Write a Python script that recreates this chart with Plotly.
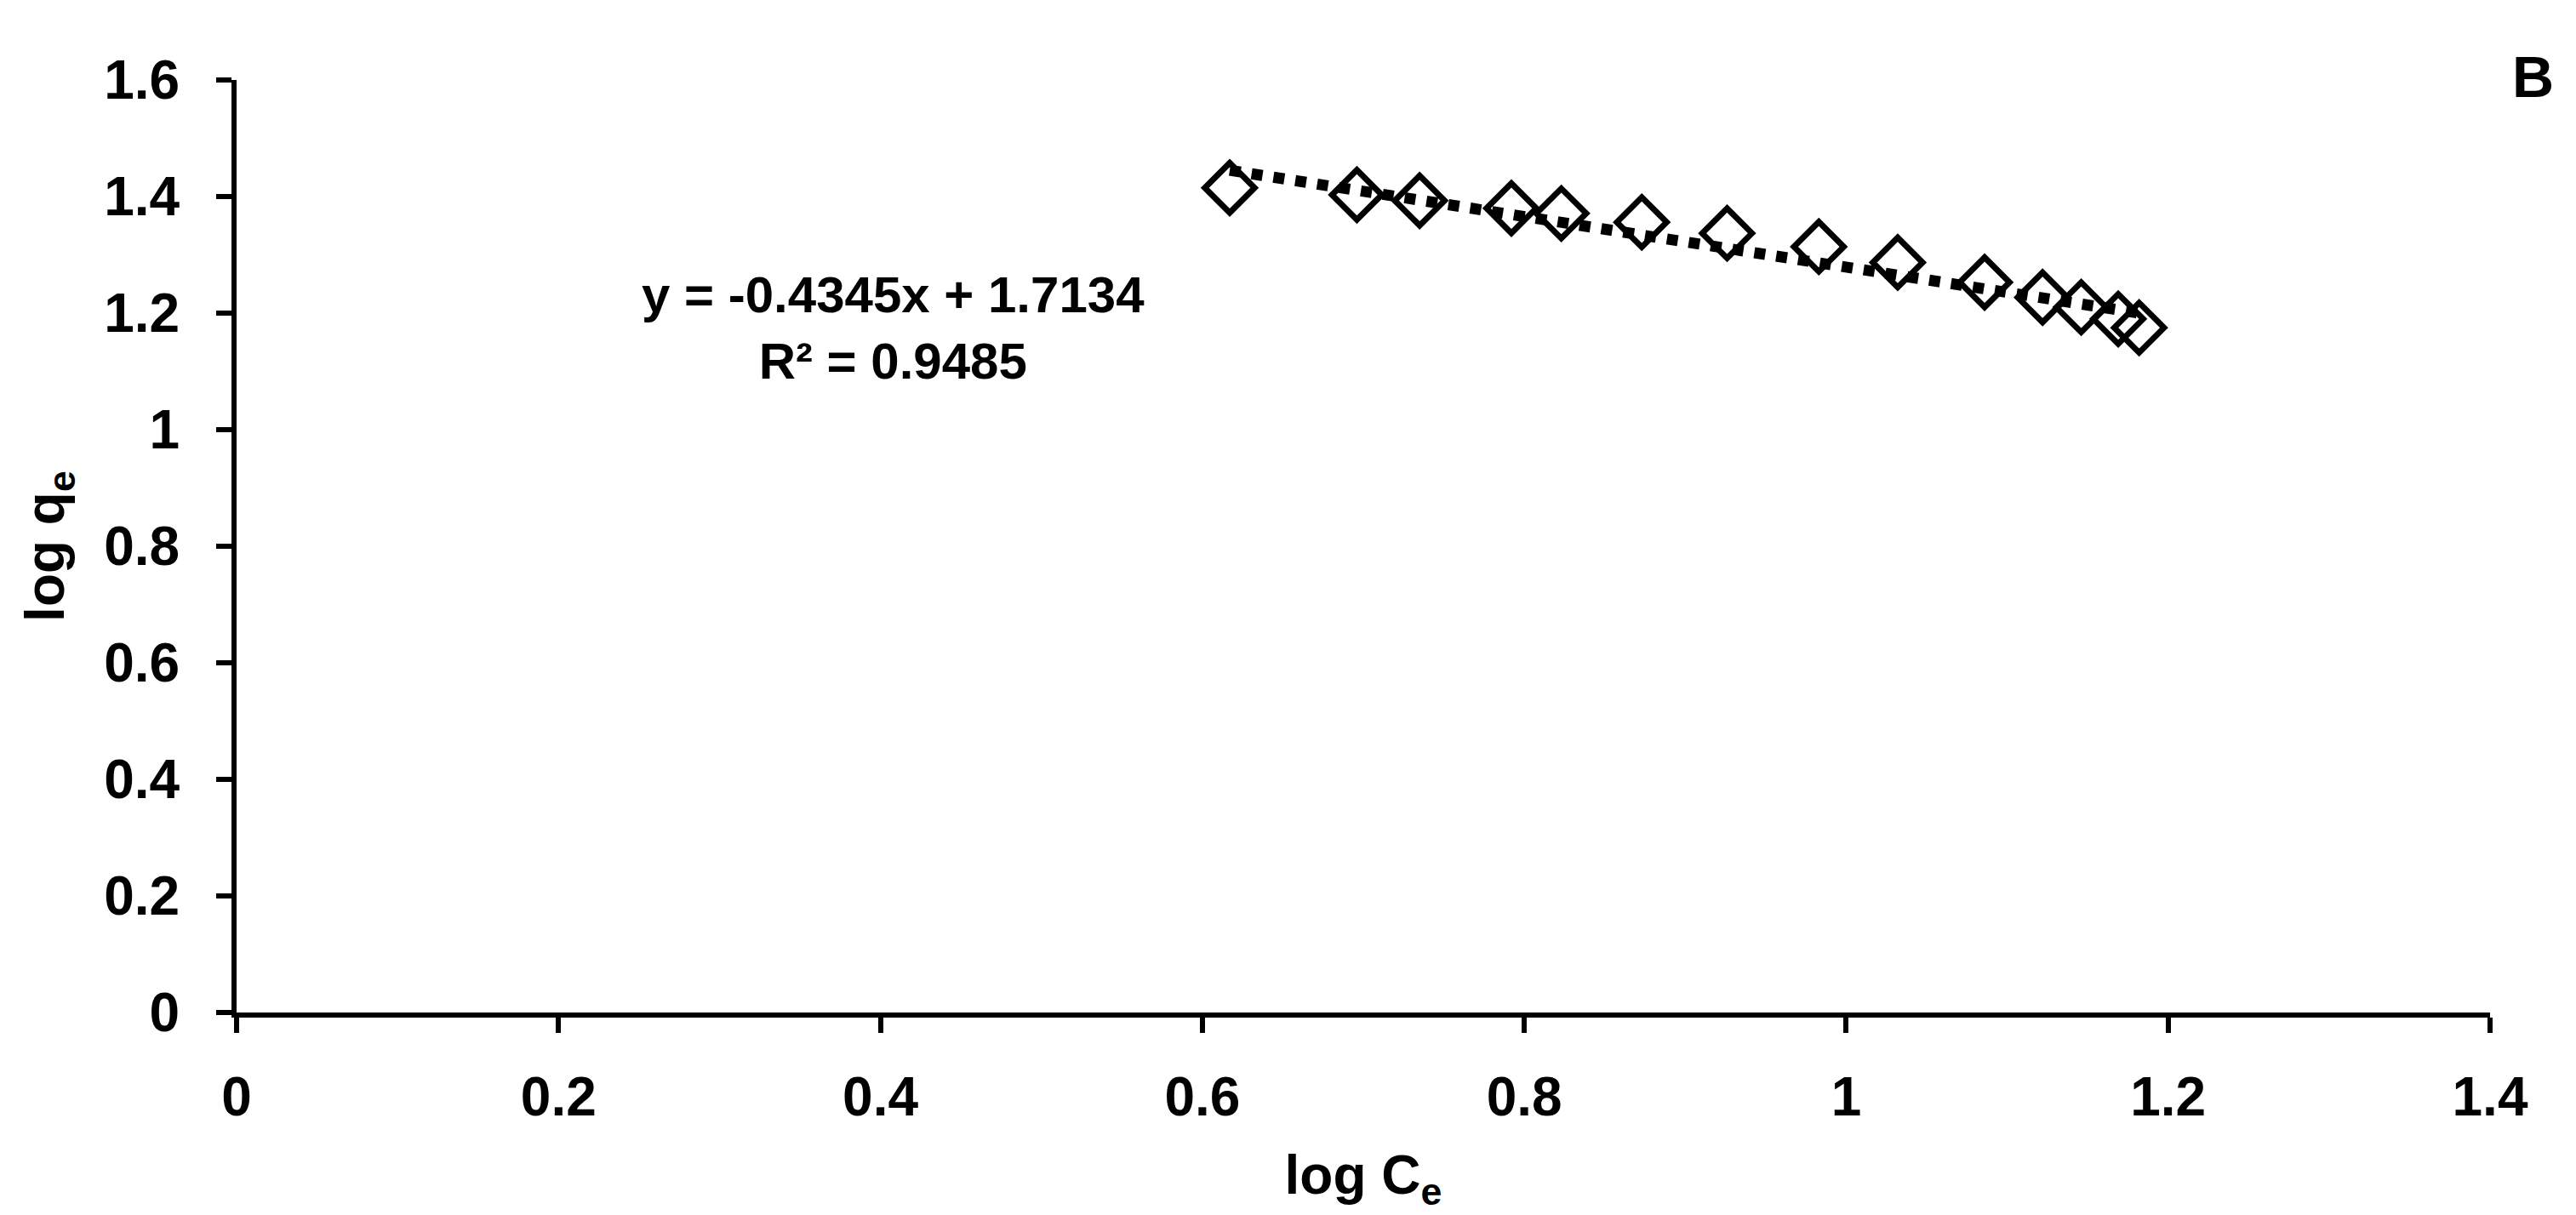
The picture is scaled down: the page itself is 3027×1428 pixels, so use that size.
import plotly.graph_objects as go

# ── data ─────────────────────────────────────────────────────────────
log_ce = [0.617, 0.696, 0.735, 0.792, 0.823, 0.873, 0.926,
          0.983, 1.032, 1.086, 1.122, 1.146, 1.169, 1.182]
log_qe = [1.415, 1.403, 1.393, 1.380, 1.371, 1.356, 1.337,
          1.314, 1.287, 1.253, 1.227, 1.210, 1.190, 1.175]

# linear trendline (Excel style), drawn between its two ends
trend_x = [0.617, 1.182]
trend_y = [1.445, 1.200]

eq_text = "y = -0.4345x + 1.7134<br>R² = 0.9485"

x_ticks = [0, 0.2, 0.4, 0.6, 0.8, 1, 1.2, 1.4]
y_ticks = [0, 0.2, 0.4, 0.6, 0.8, 1, 1.2, 1.4, 1.6]

FONT = "Liberation Sans, Arial, sans-serif"

fig = go.Figure()

fig.add_trace(go.Scatter(
    x=log_ce, y=log_qe, mode="markers",
    marker=dict(symbol="diamond-open", size=45, color="black",
                line=dict(color="black", width=7)),
    showlegend=False, cliponaxis=False,
))

fig.add_trace(go.Scatter(
    x=trend_x, y=trend_y, mode="lines",
    line=dict(color="black", width=13, dash="13px,13px"),
    showlegend=False,
))

axis_common = dict(
    showline=True, linecolor="black", linewidth=6,
    ticks="outside", ticklen=18, tickwidth=6, tickcolor="black",
    showgrid=False, zeroline=False,
    tickfont=dict(family=FONT, size=64, color="black", weight="bold"),
)

fig.update_xaxes(
    range=[0, 1.4], tickvals=x_ticks, ticklabelstandoff=20,
    title=dict(text="log C<sub>e</sub>", standoff=36,
               font=dict(family=FONT, size=64, color="black", weight="bold")),
    **axis_common,
)
fig.update_yaxes(
    range=[0, 1.6], tickvals=y_ticks, ticklabelstandoff=30,
    title=dict(text="log q<sub>e</sub>", standoff=28,
               font=dict(family=FONT, size=64, color="black", weight="bold")),
    **axis_common,
)

fig.add_annotation(
    x=0.408, y=1.174, xref="x", yref="y", text=eq_text,
    showarrow=False, align="center",
    font=dict(family=FONT, size=60, color="black", weight="bold"),
)
fig.add_annotation(
    x=1.019, y=1.004, xref="paper", yref="paper", text="B",
    showarrow=False, xanchor="center", yanchor="middle",
    font=dict(family=FONT, size=68, color="black", weight="bold"),
)

fig.update_layout(
    width=3027, height=1428,
    margin=dict(l=270, r=109, t=86, b=246),
    plot_bgcolor="white", paper_bgcolor="white",
)

fig.write_html("out.html")
